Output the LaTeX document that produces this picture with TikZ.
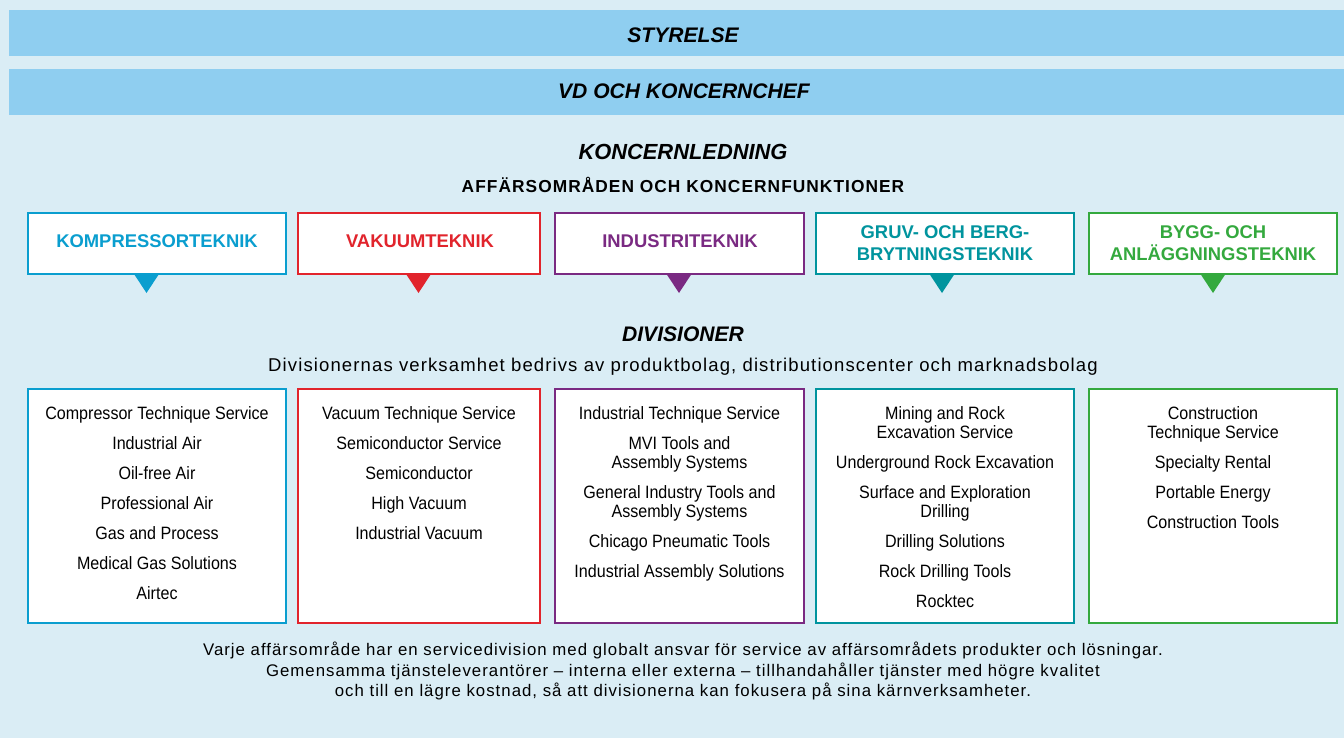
\documentclass[tikz,border=0pt]{standalone}
\usepackage{fontspec}
\setmainfont{Liberation Sans}
\newfontfamily\condensed[FakeStretch=0.9]{Liberation Sans}
\newfontfamily\spaced[LetterSpace=6]{Liberation Sans}

\definecolor{bgblue}{HTML}{DAEDF5}
\definecolor{barblue}{HTML}{8FCEF0}
\definecolor{kompcol}{HTML}{0A9ECF}
\definecolor{vakcol}{HTML}{E1242C}
\definecolor{indcol}{HTML}{7A2A82}
\definecolor{gruvcol}{HTML}{00949E}
\definecolor{byggcol}{HTML}{34A93E}

\begin{document}
\begin{tikzpicture}[x=0.75pt,y=0.75pt,yscale=-1,xscale=1,
  heading/.style={font=\fontsize{15.8}{18}\selectfont\bfseries\itshape},
  areabox/.style={fill=white,line width=1pt},
  areatext/.style={font=\fontsize{13.8}{16.5}\selectfont\bfseries,align=center,inner sep=0.75pt},
  divtext/.style={font=\condensed\fontsize{13.4}{14.25}\selectfont,align=center,anchor=north,inner sep=0pt},
  bodytext/.style={font=\spaced\fontsize{12.6}{15.4}\selectfont,align=center,inner sep=0pt}]
%set diagram size 1344 x 738
\path [fill=bgblue] (0,0) rectangle (1344,738);

%Shape: Rectangle [bars]
\fill [barblue] (9,10) rectangle (1344,56);
\fill [barblue] (9,69) rectangle (1344,115);

% Text Node
\node (styrelse) at (683,35) [heading] {STYRELSE};
% Text Node
\node (vd) at (684,91) [heading] {VD OCH KONCERNCHEF};
% Text Node
\node (ledning) at (683,152) [heading,font=\fontsize{16.4}{18}\selectfont\bfseries\itshape] {KONCERNLEDNING};
% Text Node
\node (funktioner) at (683,185) [font=\spaced\fontsize{13}{15}\selectfont\bfseries] {AFFÄRSOMRÅDEN OCH KONCERNFUNKTIONER};

%Shape: Rectangle [business areas]
\draw [areabox,draw=kompcol] (28,213) rectangle (286,274);
\draw [areabox,draw=vakcol] (298,213) rectangle (540,274);
\draw [areabox,draw=indcol] (555,213) rectangle (804,274);
\draw [areabox,draw=gruvcol] (816,213) rectangle (1074,274);
\draw [areabox,draw=byggcol] (1089,213) rectangle (1337,274);

%Shape: Triangle [pointers]
\fill [kompcol] (134,274) -- (159,274) -- (146.5,293) -- cycle;
\fill [vakcol] (406,274) -- (431,274) -- (418.5,293) -- cycle;
\fill [indcol] (666.5,274) -- (691.5,274) -- (679,293) -- cycle;
\fill [gruvcol] (929.5,274) -- (954.5,274) -- (942,293) -- cycle;
\fill [byggcol] (1200.5,274) -- (1225.5,274) -- (1213,293) -- cycle;

% Text Node
\node (komp) at (157,241.5) [areatext,text=kompcol] {KOMPRESSORTEKNIK};
% Text Node
\node (vak) at (420,241.5) [areatext,text=vakcol] {VAKUUMTEKNIK};
% Text Node
\node (ind) at (680,241.5) [areatext,text=indcol] {INDUSTRITEKNIK};
% Text Node
\node (gruv) at (945,243) [areatext,text=gruvcol] {GRUV- OCH BERG-\\BRYTNINGSTEKNIK};
% Text Node
\node (bygg) at (1213,243) [areatext,text=byggcol] {BYGG- OCH\\ANLÄGGNINGSTEKNIK};

% Text Node
\node (divisioner) at (683,334) [heading] {DIVISIONER};
% Text Node
\node (verksamhet) at (683,367) [bodytext,font=\spaced\fontsize{13.9}{16}\selectfont] {Divisionernas verksamhet bedrivs av produktbolag, distributionscenter och marknadsbolag};

%Shape: Rectangle [divisions]
\draw [areabox,draw=kompcol] (28,389) rectangle (286,623);
\draw [areabox,draw=vakcol] (298,389) rectangle (540,623);
\draw [areabox,draw=indcol] (555,389) rectangle (804,623);
\draw [areabox,draw=gruvcol] (816,389) rectangle (1074,623);
\draw [areabox,draw=byggcol] (1089,389) rectangle (1337,623);

% Text Node
\node (kompdiv) at (157,406) [divtext] {Compressor Technique Service\\[8.25pt]Industrial Air\\[8.25pt]Oil-free Air\\[8.25pt]Professional Air\\[8.25pt]Gas and Process\\[8.25pt]Medical Gas Solutions\\[8.25pt]Airtec};
% Text Node
\node (vakdiv) at (419,406) [divtext] {Vacuum Technique Service\\[8.25pt]Semiconductor Service\\[8.25pt]Semiconductor\\[8.25pt]High Vacuum\\[8.25pt]Industrial Vacuum};
% Text Node
\node (inddiv) at (679.5,406) [divtext] {Industrial Technique Service\\[8.25pt]MVI Tools and\\Assembly Systems\\[8.25pt]General Industry Tools and\\Assembly Systems\\[8.25pt]Chicago Pneumatic Tools\\[8.25pt]Industrial Assembly Solutions};
% Text Node
\node (gruvdiv) at (945,406) [divtext] {Mining and Rock\\Excavation Service\\[8.25pt]Underground Rock Excavation\\[8.25pt]Surface and Exploration\\Drilling\\[8.25pt]Drilling Solutions\\[8.25pt]Rock Drilling Tools\\[8.25pt]Rocktec};
% Text Node
\node (byggdiv) at (1213,406) [divtext] {Construction\\Technique Service\\[8.25pt]Specialty Rental\\[8.25pt]Portable Energy\\[8.25pt]Construction Tools};

% Text Node
\node (service) at (683,671) [bodytext] {Varje affärsområde har en servicedivision med globalt ansvar för service av affärsområdets produkter och lösningar.\\Gemensamma tjänsteleverantörer \textendash{} interna eller externa \textendash{} tillhandahåller tjänster med högre kvalitet\\och till en lägre kostnad, så att divisionerna kan fokusera på sina kärnverksamheter.};
\end{tikzpicture}
\end{document}
